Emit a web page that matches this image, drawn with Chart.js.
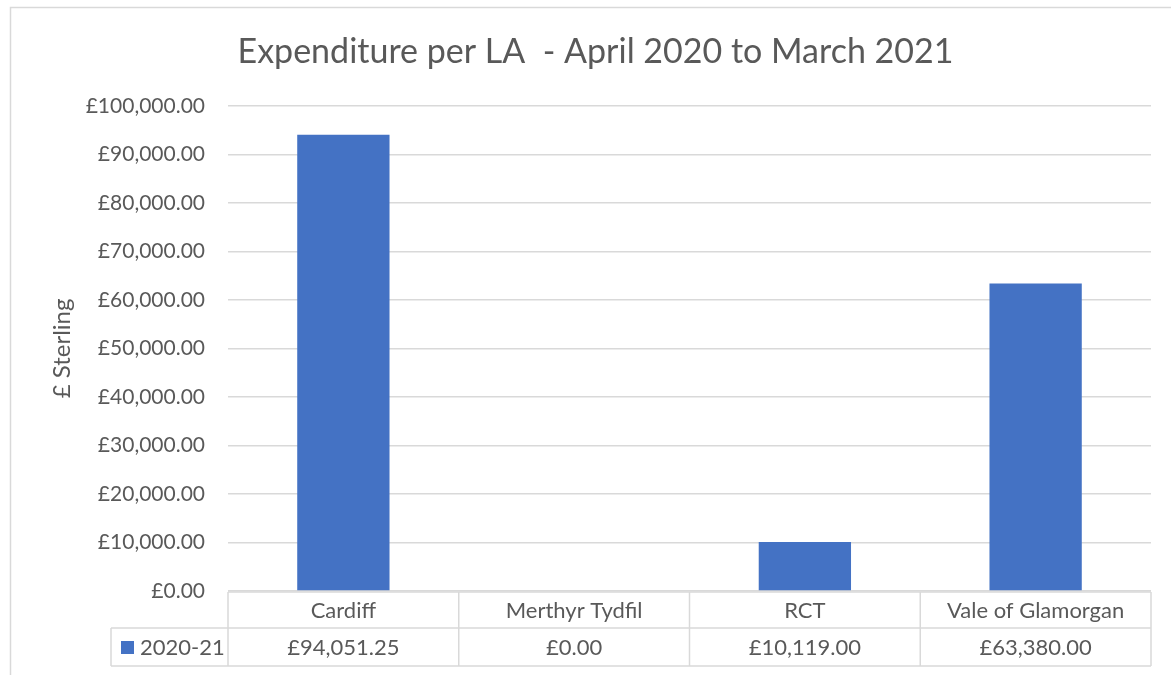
<!DOCTYPE html>
<html>
<head>
<meta charset="utf-8">
<script src="https://cdn.jsdelivr.net/npm/chart.js@4"></script>
<style>
  html, body { margin: 0; padding: 0; background: #fff; }
  #wrap { width: 1171px; height: 675px; }
</style>
</head>
<body>
<div id="wrap"><canvas id="laChart" width="1171" height="675"></canvas></div>
<script>
// ---- data ----
const areas = ["Cardiff", "Merthyr Tydfil", "RCT", "Vale of Glamorgan"];
const spend2021 = [94051.25, 0, 10119, 63380];
const seriesName = "2020-21";
const yTicks = [0, 10000, 20000, 30000, 40000, 50000, 60000, 70000, 80000, 90000, 100000];

const textCol = "#595959";
const lineCol = "#D9D9D9";
const barCol = "#4472C4";
const fontFam = "Lato, 'Open Sans', sans-serif";

function money(v) {
    return "£" + Number(v).toLocaleString("en-GB", { minimumFractionDigits: 2, maximumFractionDigits: 2 });
}

// frame round the chart + data table under the axis
const tablePlugin = {
    id: "dataTable",
    afterDraw(chart) {
        const ctx = chart.ctx;
        const x = chart.scales.x;
        const top = chart.chartArea.bottom + 1;
        const mid = top + 36;
        const bot = mid + 38;
        const step = (x.right - x.left) / areas.length;
        const legLeft = 111;

        ctx.save();
        ctx.strokeStyle = lineCol;
        ctx.lineWidth = 1.5;

        // outer frame
        ctx.strokeRect(10.5, 7.5, 1200, 700);

        ctx.beginPath();
        ctx.moveTo(x.left, top); ctx.lineTo(x.right, top);
        ctx.moveTo(legLeft, mid); ctx.lineTo(x.right, mid);
        ctx.moveTo(legLeft, bot); ctx.lineTo(x.right, bot);
        ctx.moveTo(legLeft, mid); ctx.lineTo(legLeft, bot);
        for (let i = 0; i <= areas.length; i++) {
            const px = x.left + i * step;
            ctx.moveTo(px, top); ctx.lineTo(px, bot);
        }
        ctx.stroke();

        ctx.fillStyle = textCol;
        ctx.font = "22px " + fontFam;
        ctx.textAlign = "center";
        ctx.textBaseline = "middle";
        areas.forEach((a, i) => {
            const cx = x.getPixelForValue(i);
            ctx.fillText(a, cx, (top + mid) / 2 + 1);
            ctx.fillText(money(spend2021[i]), cx, (mid + bot) / 2 + 1);
        });

        // legend key
        ctx.fillStyle = barCol;
        ctx.fillRect(legLeft + 10, (mid + bot) / 2 - 6, 13, 13);
        ctx.fillStyle = textCol;
        ctx.textAlign = "left";
        ctx.fillText(seriesName, legLeft + 29, (mid + bot) / 2 + 1);
        ctx.restore();
    }
};

new Chart(document.getElementById("laChart"), {
    type: "bar",
    data: {
        labels: areas,
        datasets: [{
            label: seriesName,
            data: spend2021,
            backgroundColor: barCol,
            barPercentage: 0.4,
            categoryPercentage: 1
        }]
    },
    options: {
        responsive: false,
        animation: false,
        layout: { padding: { left: 40, right: 20, top: 0, bottom: 0 } },
        plugins: {
            legend: { display: false },
            tooltip: { enabled: false },
            title: {
                display: true,
                text: "Expenditure per LA  - April 2020 to March 2021",
                color: textCol,
                font: { family: fontFam, size: 34, weight: "normal" },
                padding: { top: 32, bottom: 33 }
            }
        },
        scales: {
            x: {
                grid: { display: false },
                border: { display: false },
                ticks: { display: false },
                afterFit(scale) { scale.height = 84; }
            },
            y: {
                min: 0,
                max: 100000,
                afterBuildTicks(scale) { scale.ticks = yTicks.map(v => ({ value: v })); },
                grid: { color: lineCol, lineWidth: 1.5, drawTicks: false },
                border: { display: false },
                ticks: {
                    color: textCol,
                    padding: 23,
                    font: { family: fontFam, size: 21 },
                    callback: v => money(v)
                },
                title: {
                    display: true,
                    text: "£ Sterling",
                    color: textCol,
                    font: { family: fontFam, size: 24 },
                    padding: { top: 8, bottom: 0 }
                },
                afterFit(scale) { scale.width = 188; }
            }
        }
    },
    plugins: [tablePlugin]
});
</script>
</body>
</html>
